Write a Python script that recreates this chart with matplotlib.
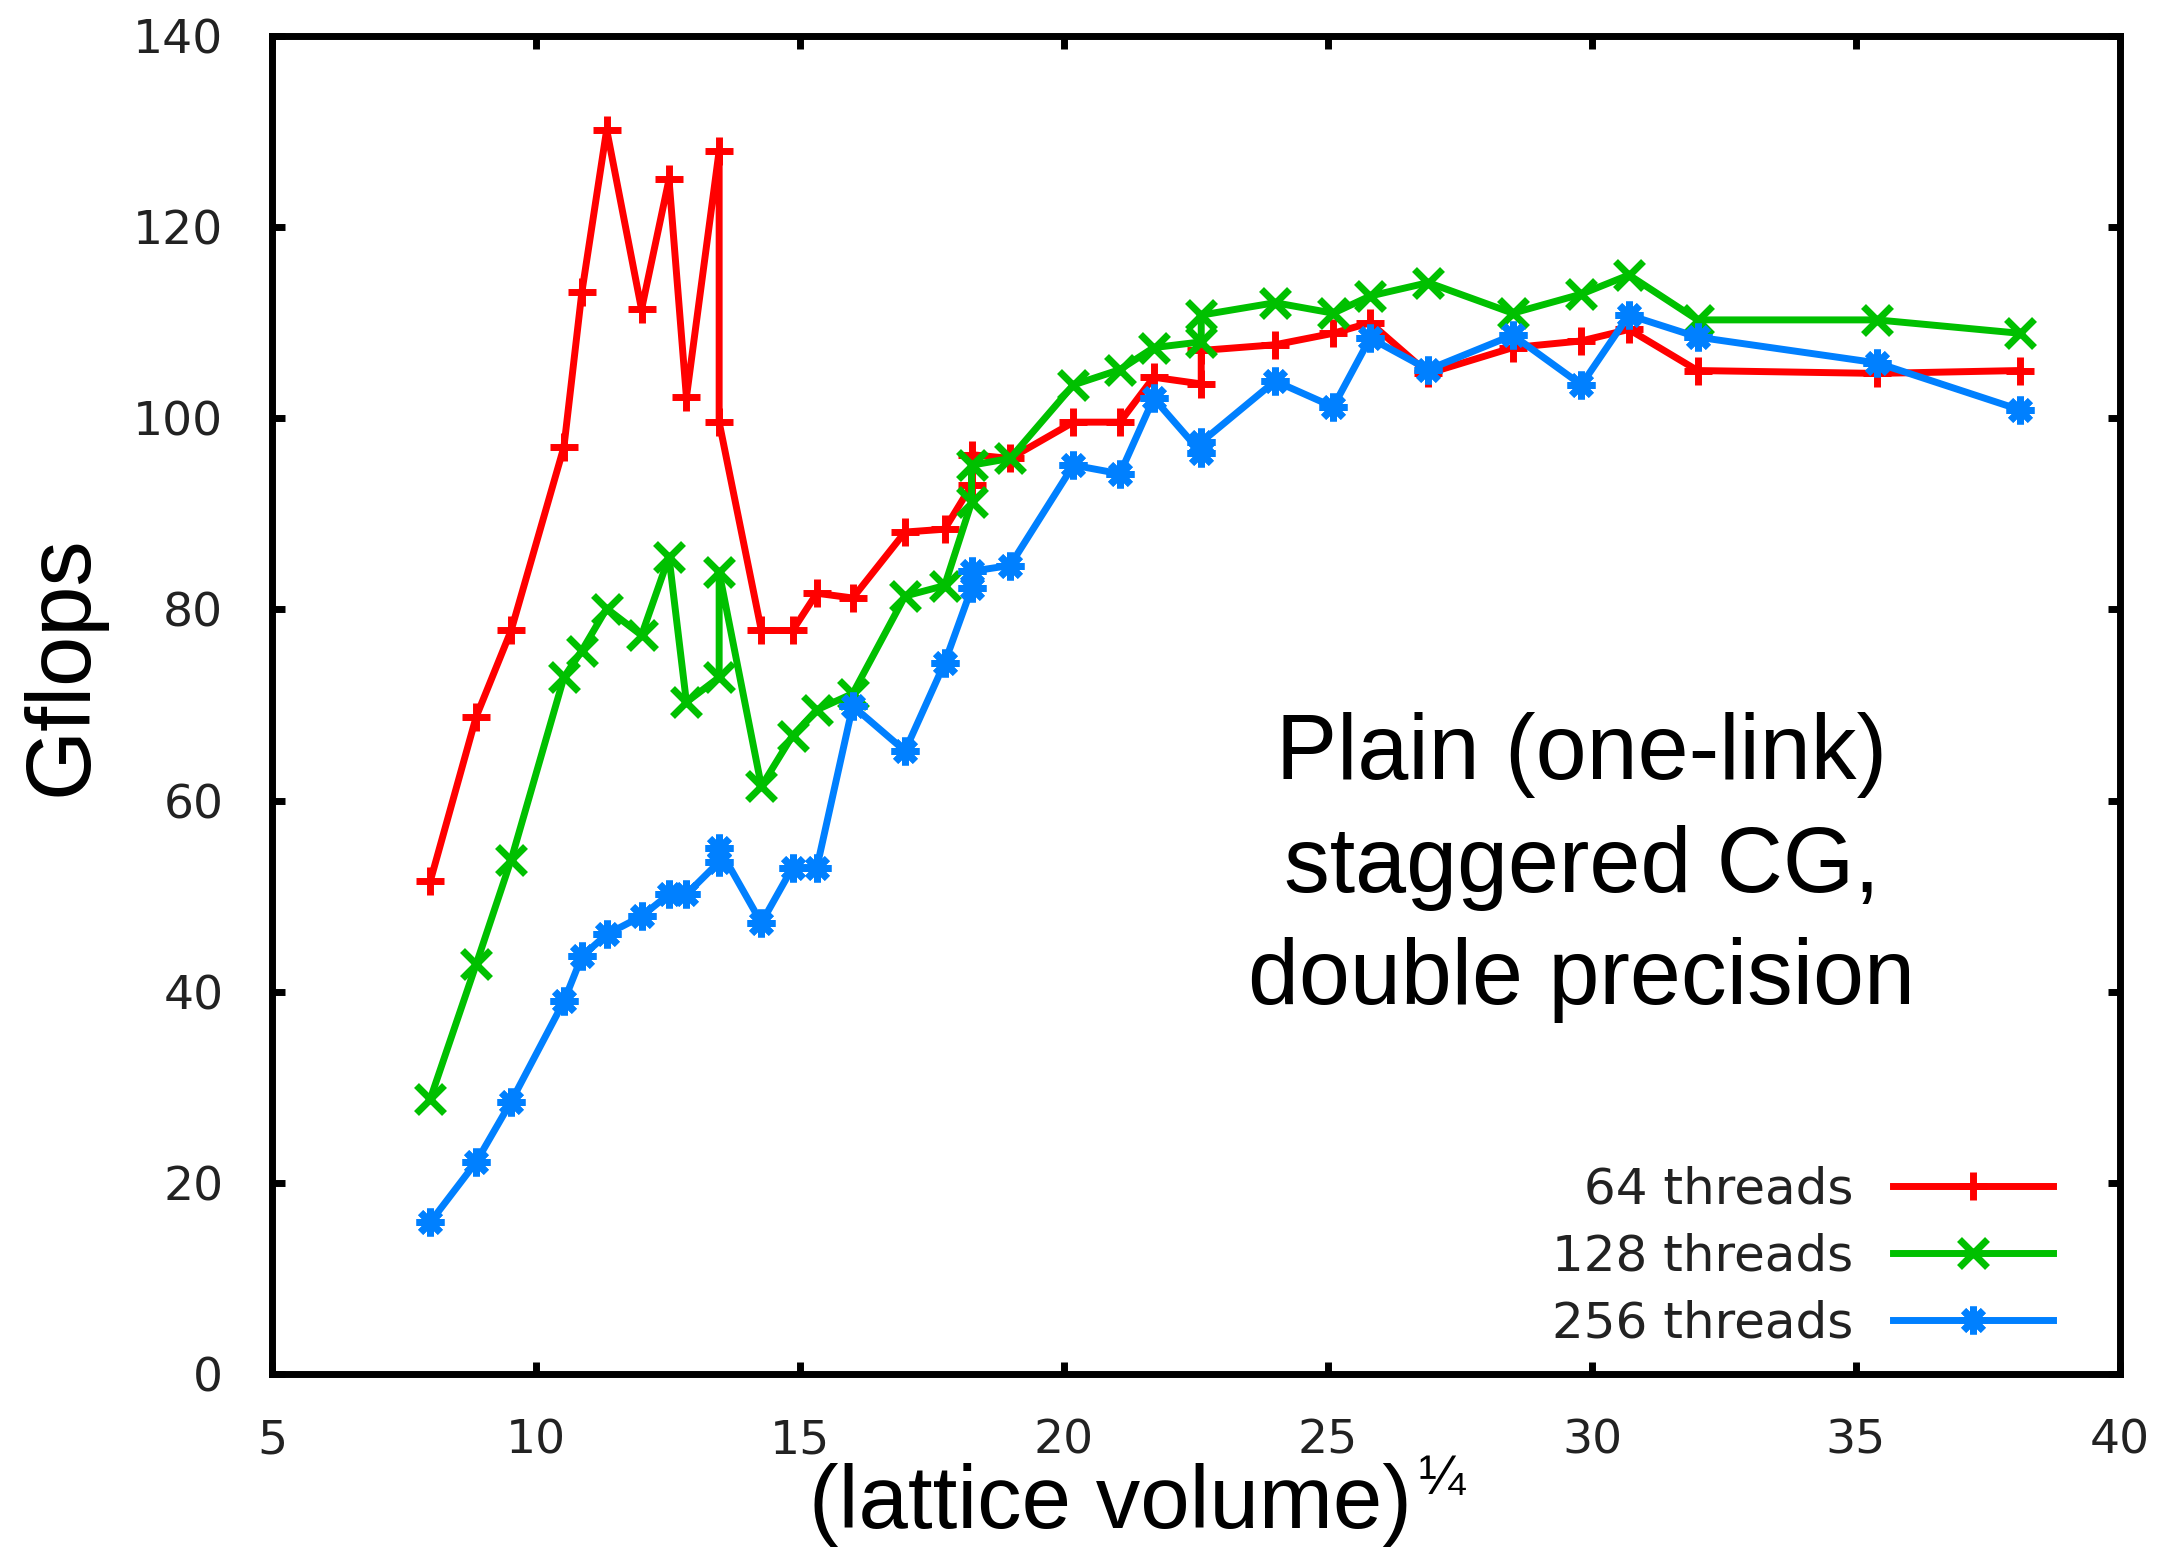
import matplotlib
matplotlib.use("Agg")
import matplotlib.pyplot as plt

# (lattice volume)^(1/4) for each run, shared by all three series
lattice_size = [8.0, 8.87, 9.53, 10.53, 10.87, 11.34, 12.0, 12.52, 12.85, 13.47,
                13.47, 14.27, 14.86, 15.32, 16.0, 16.99, 17.74, 18.25, 18.25, 18.98,
                20.18, 21.06, 21.7, 22.6, 22.6, 24.0, 25.1, 25.8, 26.9, 28.5,
                29.8, 30.7, 32.0, 35.4, 38.1]

gflops_64 = [51.6, 68.8, 77.8, 97.0, 113.2, 130.2, 111.4, 125.0, 102.2, 128.0,
             99.6, 77.8, 77.8, 81.7, 81.2, 88.1, 88.4, 93.0, 96.2, 95.8,
             99.6, 99.6, 104.3, 103.6, 107.1, 107.7, 108.9, 110.0, 104.7, 107.4,
             108.1, 109.3, 105.0, 104.7, 105.0]

gflops_128 = [28.8, 42.9, 53.8, 72.9, 75.7, 80.1, 77.3, 85.5, 70.3, 72.9,
              83.9, 61.5, 66.8, 69.5, 71.2, 81.4, 82.5, 91.2, 95.1, 95.8,
              103.5, 105.1, 107.4, 108.0, 110.8, 112.1, 111.0, 112.8, 114.2, 111.0,
              113.0, 115.0, 110.3, 110.3, 108.9]

gflops_256 = [15.9, 22.2, 28.5, 39.0, 43.7, 46.0, 47.9, 50.2, 50.2, 53.6,
              55.0, 47.2, 53.0, 53.0, 69.9, 65.2, 74.4, 82.2, 84.0, 84.6,
              95.1, 94.2, 102.1, 96.4, 97.5, 103.9, 101.2, 108.4, 105.1, 108.7,
              103.5, 110.8, 108.5, 105.8, 100.9]

labels = ["\u200764 threads", "128 threads", "256 threads"]
colors = ["#ff0000", "#00c000", "#0080ff"]
markers = ["+", "x", (8, 2, 0)]

x_ticks = [5, 10, 15, 20, 25, 30, 35, 40]
y_ticks = [0, 20, 40, 60, 80, 100, 120, 140]

note = "Plain (one-link)\nstaggered CG,\ndouble precision"

fig = plt.figure(figsize=(21.65, 15.47), dpi=100)
ax = fig.add_axes([0.1256, 0.1118, 0.8536, 0.8649])

for y, lab, c, m in zip([gflops_64, gflops_128, gflops_256], labels, colors, markers):
    ax.plot(lattice_size, y, color=c, linewidth=5, marker=m, markersize=20,
            markeredgewidth=5, label=lab)

ax.set_xlim(5, 40)
ax.set_ylim(0, 140)
ax.set_xticks(x_ticks)
ax.set_yticks(y_ticks)
for s in ax.spines.values():
    s.set_linewidth(5)
ax.tick_params(direction="in", length=9, width=5, top=True, right=True,
               labelsize=34)
ax.tick_params(axis="y", pad=35)
ax.tick_params(axis="x", pad=32)
for t in ax.get_xticklabels() + ax.get_yticklabels():
    t.set_color("#222222")

ax.text(29.8, 53.0, note, ha="center", va="center", fontsize=66,
        family="Liberation Sans", linespacing=1.4)

fig.text(0.513, 0.012, "(lattice volume)", ha="center", va="baseline",
         fontsize=64, family="Liberation Sans")
fig.text(0.655, 0.034, "\u00bc", ha="left", va="baseline",
         fontsize=40, family="Liberation Sans")
fig.text(0.029, 0.57, "Gflops", rotation=90, ha="center", va="center",
         fontsize=65, family="Liberation Sans")

leg = ax.legend(loc="lower right", bbox_to_anchor=(0.964, 0.02),
                markerfirst=False, frameon=False, fontsize=36,
                handlelength=3.2, handletextpad=0.8, labelspacing=0.38,
                borderaxespad=0, borderpad=0)
for t in leg.get_texts():
    t.set_color("#222222")

fig.savefig("out.png", dpi=100)
